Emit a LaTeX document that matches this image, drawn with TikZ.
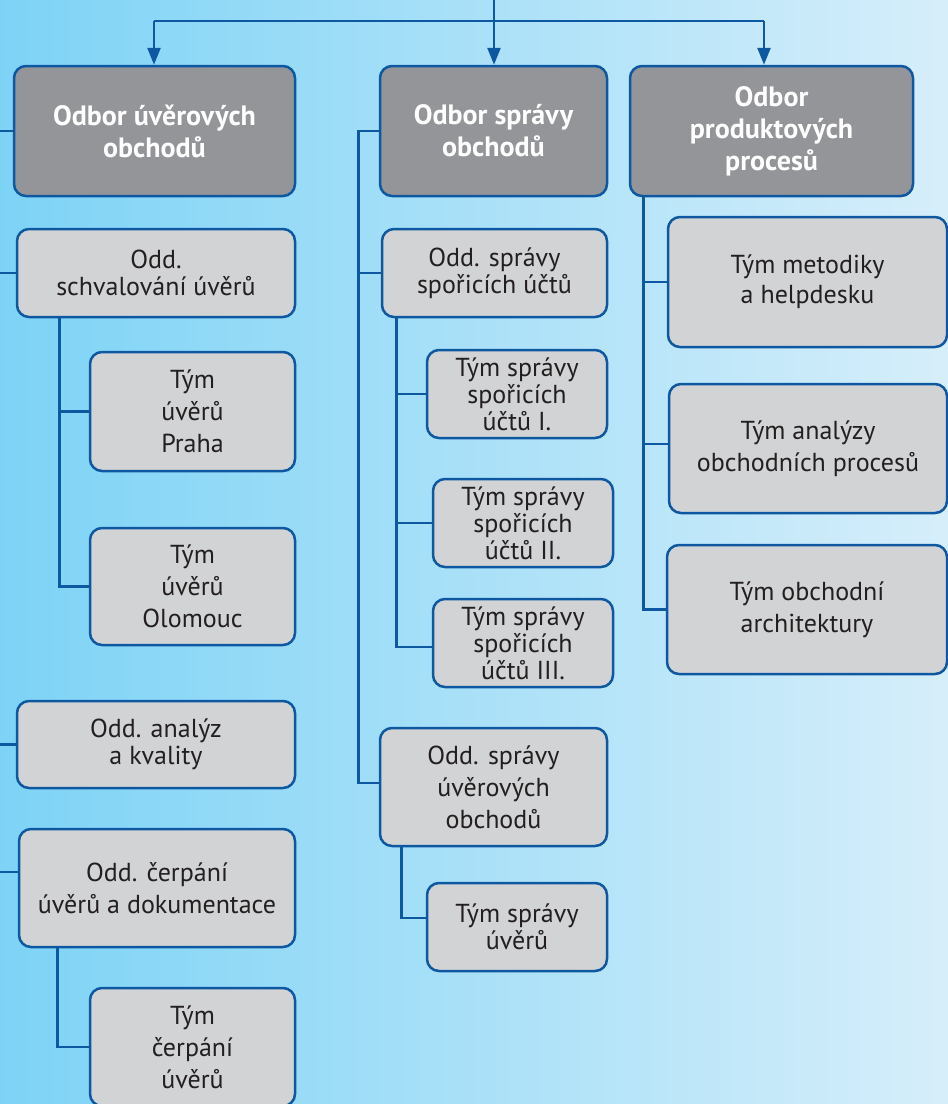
\documentclass[tikz,border=0pt]{standalone}
\usepackage{fontspec}
\setmainfont{PT Sans}
\usetikzlibrary{arrows.meta}
\definecolor{bgL}{RGB}{125,211,246}
\definecolor{bgM}{RGB}{176,226,247}
\definecolor{bgR}{RGB}{214,238,250}
\definecolor{dkbox}{RGB}{147,149,152}
\definecolor{ltbox}{RGB}{209,211,212}
\definecolor{edgeblue}{RGB}{14,88,162}
\definecolor{txt}{RGB}{35,31,32}
\tikzset{
  base/.style={draw=edgeblue, line width=2.5pt, rounded corners=12pt, inner sep=0pt, align=center},
  dark/.style={base, fill=dkbox, text=white, font=\fontsize{28}{32}\selectfont\bfseries},
  light/.style={base, fill=ltbox, text=txt, font=\fontsize{26}{32}\selectfont},
  tight/.style={font=\fontsize{26}{27}\selectfont},
  conn/.style={draw=edgeblue, line width=2.6pt},
  arr/.style={conn, -{Triangle[width=13pt,length=17pt]}}
}
\begin{document}
\begin{tikzpicture}[x=1pt,y=-1pt]
\useasboundingbox (0,0) rectangle (948,1104);
\clip (0,0) rectangle (948,1104);
\shade[left color=bgL, middle color=bgM, right color=bgR] (0,0) rectangle (948,1104);

% level 1
\node[dark, minimum width=281pt, minimum height=130pt] (uver) at (154.5,131) {Odbor úvěrových\\obchodů};
\node[dark, minimum width=227pt, minimum height=130pt] (sprava) at (493.5,131) {Odbor správy\\obchodů};
\node[dark, minimum width=283pt, minimum height=130pt] (prod) at (771.5,131) {Odbor\\produktových\\procesů};

% left column
\node[light, tight, minimum width=278pt, minimum height=88pt] (schval) at (156,273) {Odd.\\schvalování úvěrů};
\node[light, minimum width=205pt, minimum height=119pt] (praha) at (192.5,411.5) {Tým\\úvěrů\\Praha};
\node[light, minimum width=205pt, minimum height=117pt] (olomouc) at (192.5,586.5) {Tým\\úvěrů\\Olomouc};
\node[light, tight, minimum width=278pt, minimum height=87pt] (analyz) at (156,744.5) {Odd. analýz\\a kvality};
\node[light, minimum width=276pt, minimum height=118pt] (cerpani) at (157,888) {Odd. čerpání\\úvěrů a dokumentace};
\node[light, minimum width=205pt, minimum height=118pt] (tcerp) at (192.5,1047) {Tým\\čerpání\\úvěrů};

% middle column
\node[light, tight, minimum width=225pt, minimum height=88pt] (sporici) at (494.5,273) {Odd. správy\\spořicích účtů};
\node[light, tight, minimum width=180pt, minimum height=88pt] (s1) at (517,394) {Tým správy\\spořicích\\účtů I.};
\node[light, tight, minimum width=180pt, minimum height=88pt] (s2) at (523,523) {Tým správy\\spořicích\\účtů II.};
\node[light, tight, minimum width=180pt, minimum height=88pt] (s3) at (523,643) {Tým správy\\spořicích\\účtů III.};
\node[light, minimum width=227pt, minimum height=118pt] (oddsu) at (493.5,787) {Odd. správy\\úvěrových\\obchodů};
\node[light, tight, minimum width=180pt, minimum height=88pt] (tsu) at (517,927) {Tým správy\\úvěrů};

% right column
\node[light, font=\fontsize{26}{30}\selectfont, minimum width=279pt, minimum height=130pt] (metod) at (807.5,282) {Tým metodiky\\a helpdesku};
\node[light, minimum width=278pt, minimum height=129pt] (anal) at (808,448.5) {Tým analýzy\\obchodních procesů};
\node[light, minimum width=280pt, minimum height=129pt] (arch) at (807,609.5) {Tým obchodní\\architektury};

% top connectors
\coordinate (top) at (494,0);
\coordinate (busL) at (154,21);
\coordinate (busR) at (764,21);
\coordinate (edge) at (0,0);
\draw[conn] (busL) -- (busR);
\draw[arr] (top) -- (top |- sprava.north);
\draw[arr] (busL) -- (busL |- uver.north);
\draw[arr] (busR) -- (busR |- prod.north);

% left edge lines
\draw[conn] (uver.west) -- (uver.west -| edge);
\draw[conn] (schval.west) -- (schval.west -| edge);
\draw[conn] (analyz.west) -- (analyz.west -| edge);
\draw[conn] ([yshift=16pt]cerpani.west) -- ([yshift=16pt]cerpani.west -| edge);

% left column branches
\draw[conn] ([xshift=44pt]schval.south west) |- (praha.west);
\draw[conn] ([xshift=44pt]schval.south west) |- (olomouc.west);
\draw[conn] ([xshift=40pt]cerpani.south west) |- (tcerp.west);

% middle column branches
\draw[conn] (sprava.west) -- ++(-20,0) |- ([yshift=4pt]oddsu.west);
\draw[conn] (sprava.west) ++(-20,0) |- (sporici.west);
\draw[conn] ([xshift=16pt]sporici.south west) |- (s1.west);
\draw[conn] ([xshift=16pt]sporici.south west) |- (s2.west);
\draw[conn] ([xshift=16pt]sporici.south west) |- ([yshift=-4pt]s3.west);
\draw[conn] ([xshift=23pt]oddsu.south west) |- ([yshift=9pt]tsu.west);

% right column branches
\draw[conn] ([xshift=15pt]prod.south west) |- (metod.west);
\draw[conn] ([xshift=15pt]prod.south west) |- ([yshift=4.5pt]anal.west);
\draw[conn] ([xshift=15pt]prod.south west) |- (arch.west);
\end{tikzpicture}
\end{document}
